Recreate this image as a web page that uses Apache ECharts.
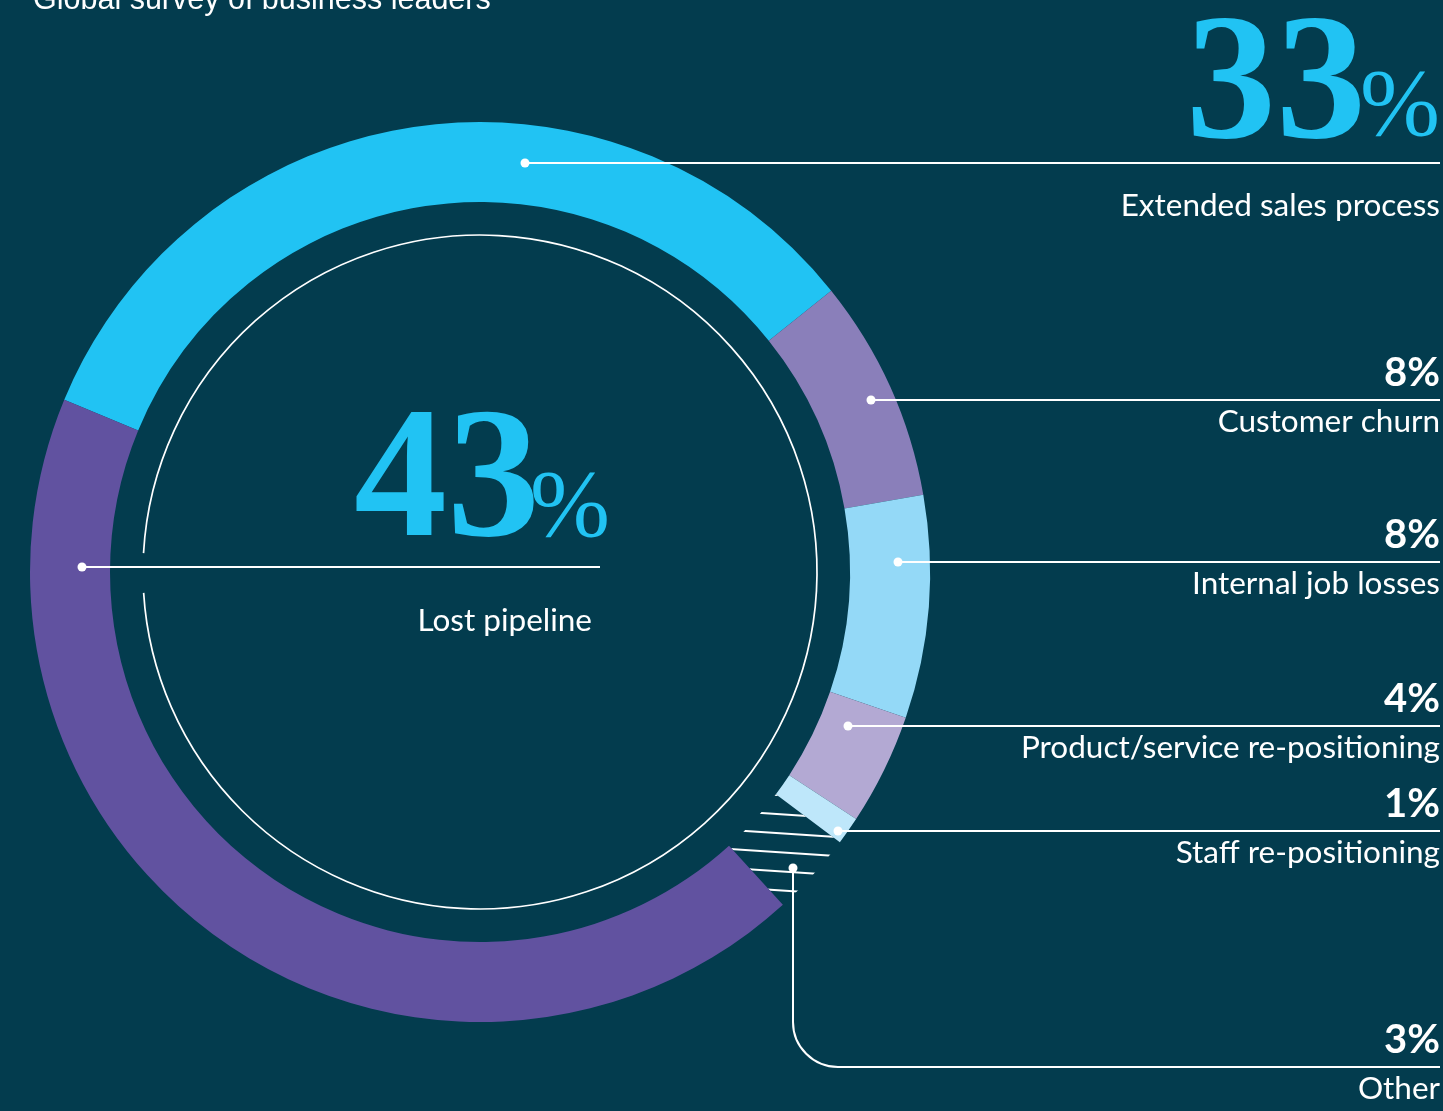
<!DOCTYPE html>
<html>
<head>
<meta charset="utf-8">
<script src="https://cdn.jsdelivr.net/npm/echarts@6/dist/echarts.min.js"></script>
<style>
  html, body { margin: 0; padding: 0; background: #033c4e; }
  #chart { width: 1443px; height: 1111px; }
</style>
</head>
<body>
<div id="chart"></div>
<script>
// Survey answers, in ring order (clockwise from the upper left)
const categories = ['Extended sales process', 'Customer churn', 'Internal job losses',
  'Product/service re-positioning', 'Staff re-positioning', 'Other', 'Lost pipeline'];
const shares = [33, 8, 8, 4, 1, 3, 43];
const shareLabels = shares.map(v => v + '%');

const sliceColors = ['#21c3f3', '#8a7fba', '#94d9f7', '#b3a9d3', '#bee7fa', 'rgba(0,0,0,0)', '#6152a0'];

// Ring geometry
const CX = 480, CY = 572, R_IN = 370, R_OUT = 450, R_GUIDE = 337;
const START_ANGLE = 157.5;
const RIGHT_EDGE = 1440;

// Leader rows on the right: horizontal rule y and the dot x on the ring
const rowLineY = [163, 400, 562, 726, 831, 1067];
const rowDotX = [525, 871, 898, 848, 838, 793];
const otherDotY = 868;
const BG = '#033c4e';
const WHITE = '#ffffff';
const SANS = 'Lato, "Noto Sans", sans-serif';
const SERIF = '"Liberation Serif", "DejaVu Serif", serif';

const pieData = categories.map((name, i) => {
  const item = { name: name, value: shares[i], itemStyle: { color: sliceColors[i] } };
  if (name === 'Other') {
    item.itemStyle.decal = {
      symbol: 'rect', symbolSize: 1, color: WHITE,
      dashArrayX: [1, 0], dashArrayY: [2, 17], rotation: 0.066
    };
  }
  return item;
});

const OVER = 50;   // annotations sit above the ring
function text(x, y, str, opts) {
  return {
    type: 'text', x: x, y: y, z: OVER, silent: true,
    style: Object.assign({
      text: str, fill: WHITE, fontFamily: SANS, fontSize: 31.5,
      align: 'right', textAlign: 'right', verticalAlign: 'bottom', textVerticalAlign: 'bottom'
    }, opts || {})
  };
}
function hline(x1, x2, y) {
  return { type: 'line', z: OVER, silent: true, shape: { x1: x1, y1: y, x2: x2, y2: y },
    style: { stroke: WHITE, lineWidth: 2 } };
}
function vline(x, y1, y2) {
  return { type: 'line', z: OVER, silent: true, shape: { x1: x, y1: y1, x2: x, y2: y2 },
    style: { stroke: WHITE, lineWidth: 2 } };
}
function dot(x, y) {
  return { type: 'circle', z: OVER, silent: true, shape: { cx: x, cy: y, r: 4.5 }, style: { fill: WHITE } };
}

const graphics = [];
// Survey title, partly above the top edge
graphics.push({ type: 'text', x: 33, y: 16, z: OVER, silent: true,
  style: { text: 'Global survey of business leaders', fill: WHITE,
    fontFamily: '"Liberation Sans", Arial, sans-serif', fontSize: 30.5,
    align: 'left', textAlign: 'left', verticalAlign: 'bottom', textVerticalAlign: 'bottom' } });

// Thin guide circle inside the ring, opened where the left rule crosses it
graphics.push({ type: 'arc', z: OVER, silent: true,
  shape: { cx: CX, cy: CY, r: R_GUIDE, startAngle: Math.PI + 0.056, endAngle: Math.PI * 3 - 0.062, clockwise: true },
  style: { stroke: WHITE, lineWidth: 1.7, fill: null } });

// Right-hand rows
const rightIdx = [0, 1, 2, 3, 4, 5];
rightIdx.forEach((ci, r) => {
  const ly = rowLineY[r];
  if (categories[ci] === 'Other') {
    // rule drops down from the hatched slice, then turns right with a rounded corner
    const x0 = rowDotX[r], rad = 45;
    graphics.push(vline(x0, otherDotY, ly - rad));
    graphics.push({ type: 'arc', z: OVER, silent: true,
      shape: { cx: x0 + rad, cy: ly - rad, r: rad, startAngle: Math.PI / 2, endAngle: Math.PI, clockwise: true },
      style: { stroke: WHITE, lineWidth: 2, fill: null } });
    graphics.push(hline(x0 + rad, RIGHT_EDGE, ly));
    graphics.push(dot(x0, otherDotY));
  } else {
    graphics.push(hline(rowDotX[r], RIGHT_EDGE, ly));
    graphics.push(dot(rowDotX[r], ly));
  }
  if (ci === 0) {
    // headline figure in display serif
    graphics.push(text(1366, 180, String(shares[ci]), {
      fill: '#21c3f3', fontFamily: SERIF, fontWeight: 'bold', fontSize: 180 }));
    graphics.push(text(RIGHT_EDGE, 158, '%', {
      fill: '#21c3f3', fontFamily: SERIF, fontWeight: 'normal', fontSize: 96 }));
    graphics.push(text(RIGHT_EDGE, ly + 59, categories[ci]));
  } else {
    graphics.push(text(RIGHT_EDGE, ly - 7, shareLabels[ci], { fontWeight: 'bold', fontSize: 40 }));
    graphics.push(text(RIGHT_EDGE, ly + 38, categories[ci]));
  }
});

// Lost pipeline: centre figure and rule to the left side of the ring
graphics.push(hline(82, 600, 567));
graphics.push(dot(82, 567));
graphics.push(text(540, 580, String(shares[6]), {
  fill: '#21c3f3', fontFamily: SERIF, fontWeight: 'bold', fontSize: 186 }));
graphics.push(text(610, 559, '%', {
  fill: '#21c3f3', fontFamily: SERIF, fontWeight: 'normal', fontSize: 96 }));
graphics.push(text(592, 637, categories[6]));

const chart = echarts.init(document.getElementById('chart'), null, { renderer: 'canvas' });
chart.setOption({
  backgroundColor: BG,
  animation: false,
  series: [{
    type: 'pie',
    silent: true,
    center: [CX, CY],
    radius: [R_IN, R_OUT],
    startAngle: START_ANGLE,
    clockwise: true,
    avoidLabelOverlap: false,
    label: { show: false },
    labelLine: { show: false },
    itemStyle: { borderWidth: 0 },
    data: pieData
  }],
  graphic: { elements: graphics }
});
</script>
</body>
</html>
